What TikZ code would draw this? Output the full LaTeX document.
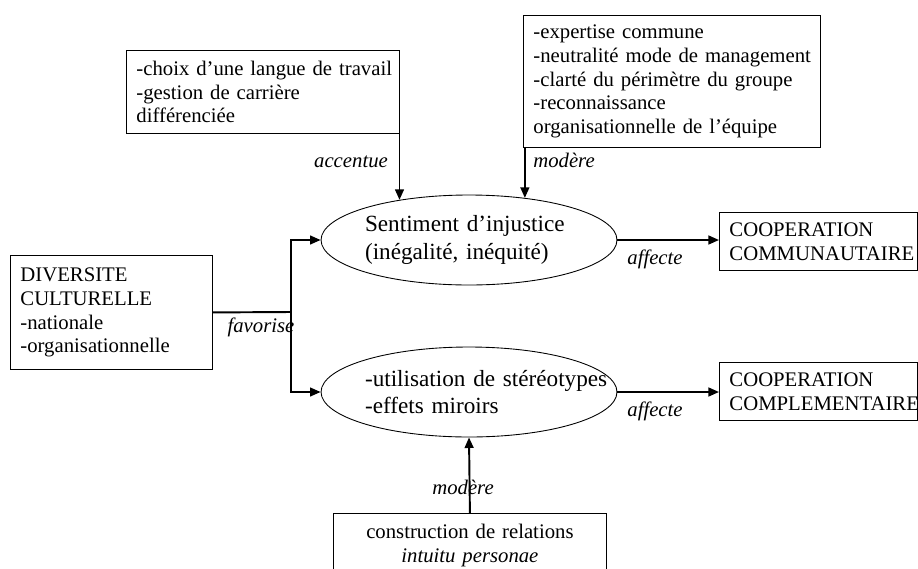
\documentclass[tikz,border=0pt]{standalone}
\usepackage{fontspec}
\setmainfont{Liberation Serif}
\usepackage{tikz}
\usetikzlibrary{arrows.meta,shapes.geometric}
\hyphenpenalty=10000

\begin{document}
\begin{tikzpicture}[x=0.02cm,y=-0.02cm,font=\fontsize{11.8}{13.6}\selectfont,
    box/.style={draw,line width=0.5pt,anchor=north west,align=left,
      inner xsep=0.2cm,inner ysep=0pt},
    bubble/.style={draw,line width=0.5pt,ellipse,minimum width=5.92cm,
      minimum height=1.8cm,inner sep=0pt,align=left,text width=4.16cm,
      font=\fontsize{13.2}{15.5}\selectfont},
    link/.style={line width=1.1pt,-{Triangle[length=6pt,width=5pt]}},
    verb/.style={font=\fontsize{11.8}{13.6}\selectfont\itshape,inner sep=0pt}]
  \clip (0,0) rectangle (918,568);
  % boxes
  \node[box,text width=5.06cm,minimum height=1.66cm] (choix) at (126,50)
    {\mbox{-choix d’une langue de travail}\\-gestion de carrière\\différenciée};
  \node[box,text width=5.54cm,minimum height=2.64cm] (expert) at (523,15)
    {-expertise commune\\\mbox{-neutralité mode de management}\\\mbox{-clarté du périmètre du groupe}\\-reconnaissance\\\mbox{organisationnelle de l’équipe}};
  \node[box,text width=3.64cm,minimum height=2.28cm] (div) at (10,255)
    {DIVERSITE\\CULTURELLE\\-nationale\\-organisationnelle};
  \node[box,text width=3.56cm,minimum height=1.16cm] (coop1) at (719,212)
    {COOPERATION\\\mbox{COMMUNAUTAIRE}};
  \node[box,text width=3.56cm,minimum height=1.16cm] (coop2) at (719,362)
    {COOPERATION\\\mbox{COMPLEMENTAIRE}};
  \node[box,text width=5.06cm,minimum height=1.28cm,align=center] (rel) at (333,513)
    {\mbox{construction de relations}\\\textit{intuitu personae}};
  % ellipses
  \node[bubble] (injust) at (469,240) {Sentiment d’injustice\\(inégalité, inéquité)};
  \node[bubble] (stereo) at (469,392) {\mbox{-utilisation de stéréotypes}\\-effets miroirs};
  % connectors
  \coordinate (fork) at (291,312);
  \draw[line width=1.1pt] (div.east) -- (fork);
  \draw[link] (fork) |- (injust.west);
  \draw[link] (fork) |- (stereo.west);
  \draw[link] (injust.east) -- (injust.east -| coop1.west);
  \draw[link] (stereo.east) -- (stereo.east -| coop2.west);
  \draw[link] (injust.150.5 |- choix.south) -- (injust.150.5);
  \draw[link] (injust.37.8 |- expert.south) -- (injust.37.8);
  \draw[link] (rel.north) -- (stereo.south);
  % verbs
  \node[verb] (accent) at (351,162) {accentue};
  \node[verb] (modtop) at (564,160) {modère};
  \node[verb] (aff1) at (655,259) {affecte};
  \node[verb] (aff2) at (655,411) {affecte};
  \node[verb] (favor) at (261,327) {favorise};
  \node[verb] (modbot) at (463,487) {modère};
\end{tikzpicture}
\end{document}
